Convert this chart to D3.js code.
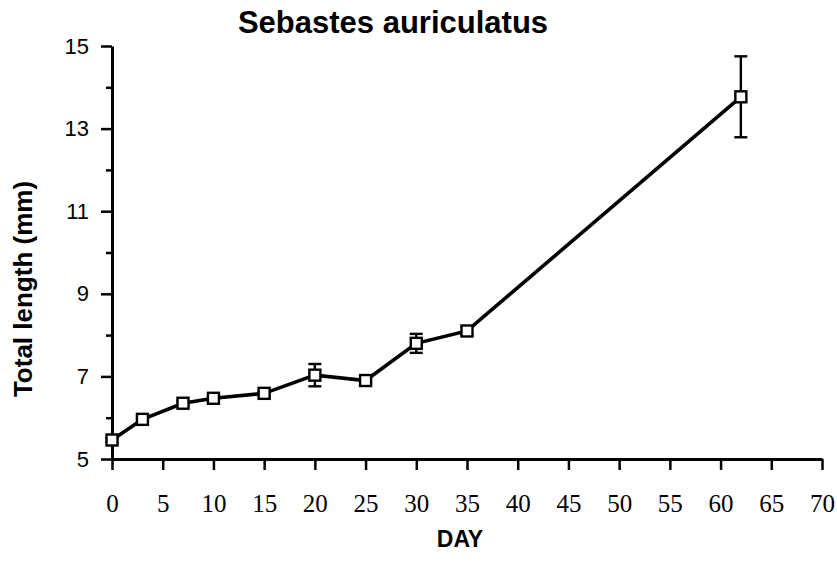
<!DOCTYPE html>
<html>
<head>
<meta charset="utf-8">
<script src="https://cdn.jsdelivr.net/npm/d3@7"></script>
<style>
  body { margin: 0; background: #fff; }
  svg { display: block; }
</style>
</head>
<body>
<script>
'use strict';

// values
const days = [0, 3, 7, 10, 15, 20, 25, 30, 35, 62];
const lengths = [5.46, 5.96, 6.35, 6.47, 6.59, 7.03, 6.90, 7.80, 8.10, 13.77];
const errors = [0.05, 0.05, 0.05, 0.05, 0.05, 0.27, 0.05, 0.23, 0.10, 0.98];
const xTicks = [0, 5, 10, 15, 20, 25, 30, 35, 40, 45, 50, 55, 60, 65, 70];
const yTicks = [5, 6, 7, 8, 9, 10, 11, 12, 13, 14, 15];
const yLabels = [5, 7, 9, 11, 13, 15];

const width = 837;
const height = 562;
const margin = { top: 46, right: 15, bottom: 103, left: 112 };

let svg = d3.select('body').append('svg')
    .attr('width', width)
    .attr('height', height);

let x = d3.scaleLinear()
    .domain([0, 70])
    .range([margin.left, width - margin.right]);

let y = d3.scaleLinear()
    .domain([5, 15])
    .range([height - margin.bottom, margin.top]);

let data = days.map(function (d, i) {
    return { day: d, len: lengths[i], err: errors[i] };
});

// x axis
let xAxis = svg.append('g')
    .attr('transform', 'translate(0,' + y(5) + ')')
    .call(d3.axisBottom(x).tickValues(xTicks).tickSize(11).tickSizeOuter(0));

xAxis.select('.domain').attr('stroke-width', 3);
xAxis.selectAll('.tick line').attr('stroke-width', 2.5);
xAxis.selectAll('.tick text')
    .attr('y', 53)
    .attr('dy', 0)
    .style('font-family', '"Liberation Serif", "Times New Roman", serif')
    .style('font-size', '25px');

// y axis
let yAxis = svg.append('g')
    .attr('transform', 'translate(' + x(0) + ',0)')
    .call(d3.axisLeft(y).tickValues(yTicks).tickSize(11).tickSizeOuter(0)
        .tickFormat(function (d) { return yLabels.indexOf(d) >= 0 ? d : ''; }));

yAxis.select('.domain').attr('stroke-width', 3);
yAxis.selectAll('.tick line')
    .attr('stroke-width', 2.5)
    .attr('x2', function (d) { return yLabels.indexOf(d) >= 0 ? -11 : -6; });
yAxis.selectAll('.tick text')
    .attr('x', -23)
    .style('font-family', '"Liberation Sans", Arial, sans-serif')
    .style('font-size', '22px');

// connecting line
let line = d3.line()
    .x(function (d) { return x(d.day); })
    .y(function (d) { return y(d.len); });

svg.append('path')
    .datum(data)
    .attr('d', line)
    .attr('fill', 'none')
    .attr('stroke', '#000')
    .attr('stroke-width', 3.6);

// error bars
let bars = svg.append('g')
    .attr('stroke', '#000')
    .attr('stroke-width', 2.4);

bars.selectAll('line.v')
    .data(data).enter()
    .append('line')
    .attr('class', 'v')
    .attr('x1', function (d) { return x(d.day); })
    .attr('x2', function (d) { return x(d.day); })
    .attr('y1', function (d) { return y(d.len - d.err); })
    .attr('y2', function (d) { return y(d.len + d.err); });

[1, -1].forEach(function (s) {
    bars.selectAll('line.cap' + (s > 0 ? 'u' : 'd'))
        .data(data).enter()
        .append('line')
        .attr('x1', function (d) { return x(d.day) - 6.5; })
        .attr('x2', function (d) { return x(d.day) + 6.5; })
        .attr('y1', function (d) { return y(d.len + s * d.err); })
        .attr('y2', function (d) { return y(d.len + s * d.err); });
});

// square markers
svg.selectAll('rect.pt')
    .data(data).enter()
    .append('rect')
    .attr('class', 'pt')
    .attr('x', function (d) { return x(d.day) - 5.5; })
    .attr('y', function (d) { return y(d.len) - 5.5; })
    .attr('width', 11)
    .attr('height', 11)
    .attr('fill', '#fff')
    .attr('stroke', '#000')
    .attr('stroke-width', 2.4);

// titles
svg.append('text')
    .attr('x', 393)
    .attr('y', 33)
    .attr('text-anchor', 'middle')
    .style('font-family', '"Liberation Sans", Arial, sans-serif')
    .style('font-weight', 'bold')
    .style('font-size', '31px')
    .text('Sebastes auriculatus');

svg.append('text')
    .attr('x', 460)
    .attr('y', 547)
    .attr('text-anchor', 'middle')
    .style('font-family', '"Liberation Sans", Arial, sans-serif')
    .style('font-weight', 'bold')
    .style('font-size', '23px')
    .text('DAY');

svg.append('text')
    .attr('transform', 'translate(32,289) rotate(-90)')
    .attr('text-anchor', 'middle')
    .style('font-family', '"Liberation Sans", Arial, sans-serif')
    .style('font-weight', 'bold')
    .style('font-size', '26px')
    .text('Total length (mm)');
</script>
</body>
</html>
